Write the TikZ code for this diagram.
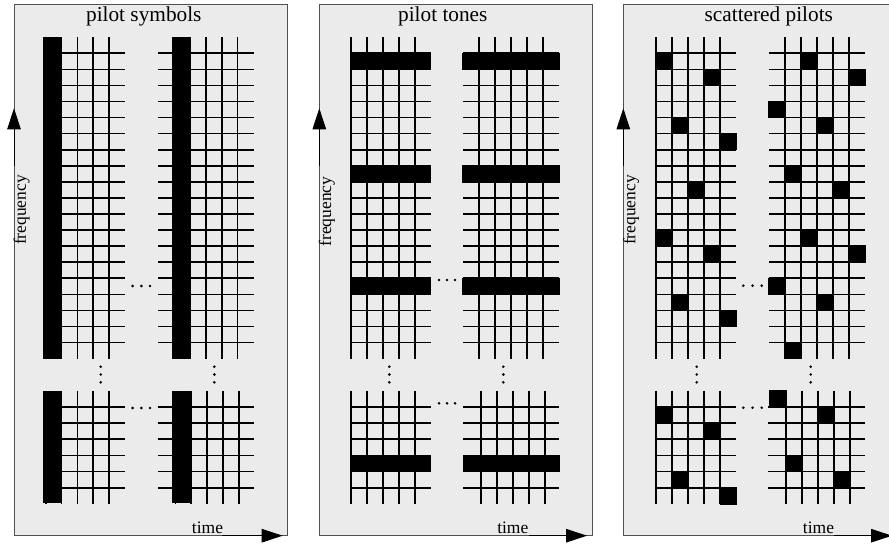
\documentclass[tikz,border=0pt]{standalone}
\usepackage{fontspec}
\setmainfont{Liberation Serif}
\usetikzlibrary{arrows.meta}
\definecolor{panelfill}{HTML}{EBEBEB}
\definecolor{panelline}{HTML}{505050}
\tikzset{
  panel/.style={fill=panelfill,draw=panelline,line width=1pt},
  gridline/.style={draw=black,line width=1.6pt},
  barfill/.style={fill=black,draw=black,line width=1.5pt},
  axisarrow/.style={draw=black,line width=1pt,-{Triangle[length=21pt,width=13.5pt]}},
  titletext/.style={font=\fontsize{21.3}{24}\selectfont,anchor=base,inner sep=0pt},
  axistext/.style={font=\fontsize{17.5}{20}\selectfont,anchor=base,inner sep=0pt},
  dotmark/.style={fill=black}
}
% upper grid: v0, dx, hstart, hend
\newcommand\ugrid[4]{%
  \foreach \i in {0,...,4} \draw[gridline] ({#1+\i*#2},37.3) -- ({#1+\i*#2},358.8);
  \foreach \r in {0,...,18} \draw[gridline] (#3,{53.3+16.07*\r}) -- (#4,{53.3+16.07*\r});
}
% lower grid: v0, dx, hstart, hend
\newcommand\lgrid[4]{%
  \foreach \i in {0,...,4} \draw[gridline] ({#1+\i*#2},390.7) -- ({#1+\i*#2},503.5);
  \foreach \r in {0,...,5} \draw[gridline] (#3,{406.7+16.2*\r}) -- (#4,{406.7+16.2*\r});
}
% cells: v0, dx, col, row
\newcommand\ucell[4]{%
  \draw[barfill] ({#1+(#3)*#2},{53.3+16.07*(#4)}) rectangle ({#1+(#3+1)*#2},{53.3+16.07*(#4+1)});
}
\newcommand\lcell[4]{%
  \draw[barfill] ({#1+(#3)*#2},{406.7+16.2*(#4)}) rectangle ({#1+(#3+1)*#2},{406.7+16.2*(#4+1)});
}
\newcommand\hdots[3]{% x, y  (center x of middle dot), spacing
  \fill[dotmark] ({#1-#3},#2) circle (1.45);
  \fill[dotmark] (#1,#2) circle (1.45);
  \fill[dotmark] ({#1+#3},#2) circle (1.45);
}
\newcommand\vdotsm[1]{%
  \fill[dotmark] (#1,366.7) circle (1.45);
  \fill[dotmark] (#1,374.5) circle (1.45);
  \fill[dotmark] (#1,382.3) circle (1.45);
}
\begin{document}
\begin{tikzpicture}[x=1pt,y=-1pt]
\clip (0,0) rectangle (889,545);
\fill[white] (0,0) rectangle (889,545);

% ---------------- panel 1: pilot symbols
\draw[panel] (14,4.5) rectangle (287.3,535.7);
\node[titletext] (t1) at (143.8,21.7) {pilot symbols};
\ugrid{45.7}{15.8}{45.7}{124.7}
\ugrid{174}{15.9}{158.1}{253.5}
\lgrid{45.7}{15.8}{45.7}{124.7}
\lgrid{175.3}{15.9}{158.1}{253.5}
\draw[barfill] (44,37.4) rectangle (61,358.6);
\draw[barfill] (173,37.4) rectangle (190,358.6);
\draw[barfill] (44,391.4) rectangle (61,502.6);
\draw[barfill] (173,391.4) rectangle (191,502.6);
\hdots{141.3}{286}{8.7}
\hdots{141.3}{408}{8.7}
\vdotsm{100.7}
\vdotsm{214.3}
\node[axistext,rotate=90] (f1) at (25.8,210) {frequency};
\node[axistext] (x1) at (207.5,533) {time};
\coordinate (f1a) at (14,166);
\coordinate (f1b) at (14,108.3);
\coordinate (x1a) at (222,535.7);
\coordinate (x1b) at (282.7,535.7);
\draw[axisarrow] (f1a) -- (f1b);
\draw[axisarrow] (x1a) -- (x1b);

% ---------------- panel 2: pilot tones
\draw[panel] (319.3,4.5) rectangle (592.7,535.7);
\node[titletext] (t2) at (442.8,21.7) {pilot tones};
\ugrid{350.7}{16}{350.7}{430.7}
\ugrid{479}{16}{463}{559}
\lgrid{350.7}{16}{350.7}{430.7}
\lgrid{481}{16}{463.3}{559.3}
\foreach \r in {0,7,14} {
  \draw[barfill] (350.7,{53.3+16.07*\r}) rectangle (430.7,{53.3+16.07*(\r+1)});
  \draw[barfill] (463,{53.3+16.07*\r}) rectangle (559,{53.3+16.07*(\r+1)});
}
\draw[barfill] (350.7,{406.7+16.2*3}) rectangle (430.7,{406.7+16.2*4});
\draw[barfill] (463.3,{406.7+16.2*3}) rectangle (559.3,{406.7+16.2*4});
\hdots{447}{280}{8}
\hdots{447}{403.3}{8}
\vdotsm{389.3}
\vdotsm{503.3}
\node[axistext,rotate=90] (f2) at (331.2,211.5) {frequency};
\node[axistext] (x2) at (512.8,533) {time};
\coordinate (f2a) at (319.3,166);
\coordinate (f2b) at (319.3,108.3);
\coordinate (x2a) at (529.3,535.7);
\coordinate (x2b) at (587,535.7);
\draw[axisarrow] (f2a) -- (f2b);
\draw[axisarrow] (x2a) -- (x2b);

% ---------------- panel 3: scattered pilots
\draw[panel] (623.3,4.5) rectangle (898,535.7);
\node[titletext] (t3) at (768.8,21.7) {scattered pilots};
\ugrid{656}{16.07}{656}{736.3}
\ugrid{785}{16}{769}{865}
\lgrid{656}{16.07}{656}{736.3}
\lgrid{785.8}{16.07}{768.3}{865}
\foreach \c/\r in {0/0,3/1,1/4,4/5,2/8,0/11,3/12,1/15,4/16} {\ucell{656}{16.07}{\c}{\r}}
\foreach \c/\r in {1/0,4/1,-1/3,2/4,0/7,3/8,1/11,4/12,-1/14,2/15,0/18} {\ucell{785}{16}{\c}{\r}}
\foreach \c/\r in {0/0,3/1,1/4,4/5} {\lcell{656}{16.07}{\c}{\r}}
\foreach \c/\r in {-1/-1,2/0,0/3,3/4} {\lcell{785.8}{16.07}{\c}{\r}}
\hdots{752.5}{285.7}{9.2}
\hdots{752.5}{407.7}{9.2}
\vdotsm{696.7}
\vdotsm{810.7}
\node[axistext,rotate=90] (f3) at (635.3,210) {frequency};
\node[axistext] (x3) at (818.5,533) {time};
\coordinate (f3a) at (623.3,166);
\coordinate (f3b) at (623.3,108.3);
\coordinate (x3a) at (834.3,535.7);
\coordinate (x3b) at (892,535.7);
\draw[axisarrow] (f3a) -- (f3b);
\draw[axisarrow] (x3a) -- (x3b);
\end{tikzpicture}
\end{document}
